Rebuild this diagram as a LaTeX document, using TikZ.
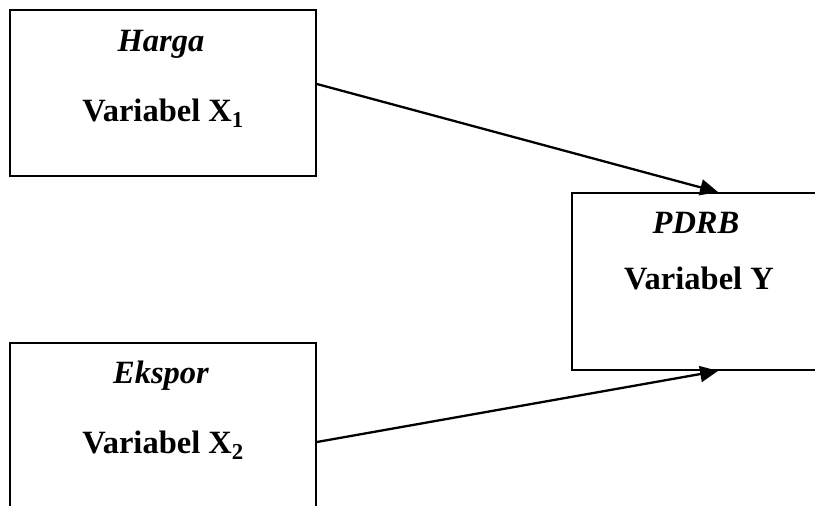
\documentclass[tikz,border=0pt]{standalone}
\usepackage{fontspec}
\setmainfont{Liberation Serif}
\usetikzlibrary{arrows.meta,calc}
\begin{document}
\begin{tikzpicture}[x=1pt,y=-1pt,
  box/.style={draw=black,line width=1.8pt,rectangle,inner sep=0pt},
  lbl/.style={anchor=base,inner sep=0pt,font=\fontsize{32.5}{38}\selectfont\bfseries},
  conn/.style={line width=2.3pt,-{Triangle[length=18pt,width=16pt]}}]
\useasboundingbox (0,0) rectangle (815,506);
\begin{scope}
\clip (0,0) rectangle (815,506);
\node[box,minimum width=306pt,minimum height=166pt] (b1) at (163,93) {};
\node[box,minimum width=254pt,minimum height=177pt] (b2) at (699,281.5) {};
\node[box,minimum width=306pt,minimum height=166pt] (b3) at (163,426) {};
\end{scope}
\node[lbl] (t1) at (161,51) {\itshape Harga};
\node[lbl] (t2) at (163,121) {Variabel X\textsubscript{1}};
\node[lbl] (t3) at (696,233) {\itshape PDRB};
\node[lbl] (t4) at (699,289) {Variabel Y};
\node[lbl] (t5) at (161,383) {\itshape Ekspor};
\node[lbl] (t6) at (163,453) {Variabel X\textsubscript{2}};
\coordinate (s1) at ($(b1.east)+(0,-9)$);
\coordinate (e1) at ($(b2.north west)+(147,0)$);
\coordinate (s2) at ($(b3.east)+(0,16)$);
\coordinate (e2) at ($(b2.south west)+(147,0)$);
\draw[conn] (s1) -- (e1);
\draw[conn] (s2) -- (e2);
\end{tikzpicture}
\end{document}
